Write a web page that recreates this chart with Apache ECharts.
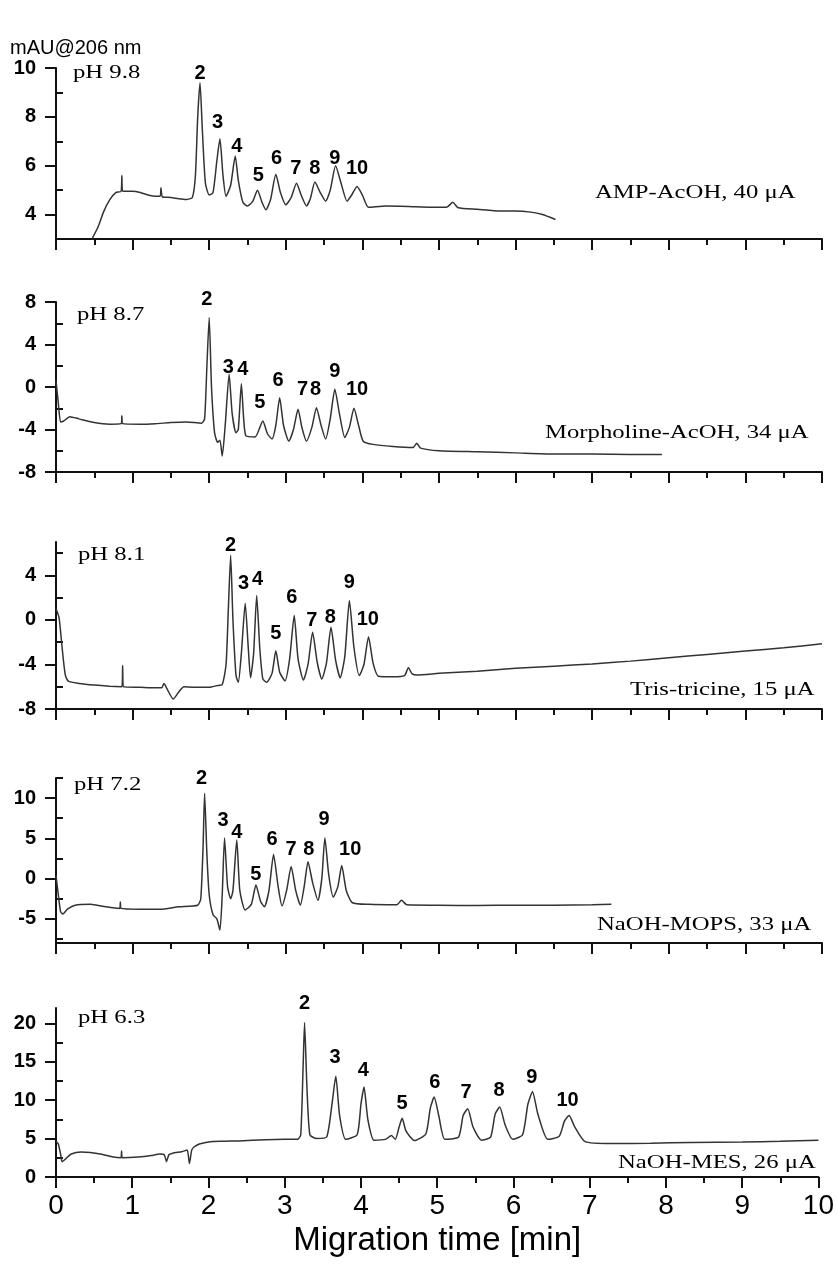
<!DOCTYPE html>
<html>
<head>
<meta charset="utf-8">
<script src="https://cdn.jsdelivr.net/npm/echarts@6/dist/echarts.min.js"></script>
<style>
html,body{margin:0;padding:0;background:#fff;}
#chart{width:837px;height:1268px;}
</style>
</head>
<body>
<div id="chart"></div>
<script>
// electropherograms, time [min] vs mAU@206 nm
var trace98 = [[0.47,3.0],[0.55,3.5],[0.62,4.1],[0.7,4.6],[0.78,4.9],[0.85,4.95],[0.86,5.6],[0.87,4.95],[1.0,4.95],[1.1,4.9],[1.2,4.8],[1.3,4.75],[1.36,4.75],[1.37,5.1],[1.39,4.72],[1.5,4.7],[1.6,4.65],[1.7,4.62],[1.78,4.7],[1.82,5.6],[1.85,8.0],[1.88,9.4],[1.91,7.5],[1.95,5.3],[2.0,4.8],[2.05,4.9],[2.1,6.2],[2.14,7.1],[2.18,5.6],[2.22,4.75],[2.28,5.2],[2.34,6.4],[2.38,5.4],[2.44,4.5],[2.5,4.35],[2.57,4.55],[2.63,5.0],[2.69,4.5],[2.74,4.2],[2.8,4.6],[2.87,5.65],[2.93,4.9],[3.0,4.4],[3.07,4.7],[3.14,5.28],[3.2,4.8],[3.27,4.35],[3.32,4.65],[3.38,5.33],[3.45,4.9],[3.52,4.55],[3.58,5.0],[3.65,6.0],[3.72,5.3],[3.8,4.55],[3.86,4.8],[3.93,5.15],[4.0,4.8],[4.08,4.3],[4.3,4.35],[4.6,4.33],[4.9,4.3],[5.1,4.3],[5.18,4.5],[5.25,4.28],[5.5,4.22],[5.8,4.15],[6.0,4.15],[6.2,4.1],[6.35,4.0],[6.52,3.8]];
var trace87 = [[0,0.6],[0.03,-1.5],[0.06,-3.3],[0.1,-3.2],[0.18,-2.8],[0.3,-3.0],[0.5,-3.35],[0.7,-3.5],[0.85,-3.45],[0.86,-2.7],[0.87,-3.45],[1.1,-3.5],[1.3,-3.45],[1.5,-3.35],[1.7,-3.3],[1.9,-3.4],[1.94,-3.0],[1.97,2.0],[2.0,6.55],[2.03,0.0],[2.07,-4.3],[2.11,-5.2],[2.14,-5.0],[2.17,-6.5],[2.21,-3.5],[2.26,1.2],[2.3,-2.5],[2.35,-4.3],[2.38,-4.0],[2.42,0.3],[2.45,-3.0],[2.48,-4.6],[2.6,-4.7],[2.7,-3.2],[2.76,-4.4],[2.82,-4.9],[2.87,-3.6],[2.92,-1.0],[2.97,-3.6],[3.04,-5.1],[3.1,-4.0],[3.16,-2.1],[3.21,-3.8],[3.27,-5.1],[3.34,-3.8],[3.40,-1.95],[3.46,-3.6],[3.52,-4.9],[3.58,-3.0],[3.64,-0.2],[3.7,-2.5],[3.77,-4.75],[3.83,-3.8],[3.89,-2.0],[3.95,-3.6],[4.01,-5.1],[4.14,-5.4],[4.4,-5.6],[4.66,-5.7],[4.71,-5.3],[4.76,-5.75],[5.0,-6.0],[5.5,-6.1],[6.0,-6.2],[6.5,-6.3],[7.0,-6.3],[7.5,-6.35],[7.91,-6.35]];
var trace81 = [[0,1.0],[0.04,0.2],[0.08,-2.5],[0.12,-4.9],[0.16,-5.5],[0.3,-5.7],[0.5,-5.85],[0.7,-5.95],[0.86,-6.0],[0.87,-4.1],[0.88,-6.0],[1.1,-6.05],[1.3,-6.1],[1.38,-6.1],[1.41,-5.7],[1.45,-6.2],[1.53,-7.1],[1.6,-6.5],[1.67,-6.0],[1.8,-6.05],[2.0,-6.05],[2.1,-5.9],[2.17,-5.8],[2.22,-4.0],[2.25,1.0],[2.28,5.8],[2.31,0.0],[2.35,-5.0],[2.38,-5.6],[2.42,-3.0],[2.47,1.5],[2.51,-2.5],[2.54,-5.2],[2.58,-3.0],[2.62,2.2],[2.66,-2.5],[2.7,-5.3],[2.75,-5.6],[2.82,-4.8],[2.87,-2.77],[2.92,-4.7],[2.99,-5.47],[3.05,-3.5],[3.11,0.39],[3.16,-3.5],[3.23,-5.4],[3.29,-4.0],[3.35,-1.1],[3.41,-3.8],[3.47,-5.3],[3.53,-3.9],[3.59,-0.66],[3.65,-3.6],[3.71,-5.2],[3.77,-3.3],[3.83,1.74],[3.89,-2.5],[3.96,-5.0],[4.02,-4.0],[4.08,-1.5],[4.14,-3.9],[4.21,-5.05],[4.4,-5.1],[4.55,-5.0],[4.6,-4.3],[4.65,-4.85],[4.71,-4.95],[5.0,-4.8],[5.5,-4.6],[6.0,-4.35],[6.5,-4.15],[7.0,-3.95],[7.5,-3.7],[8.0,-3.4],[8.5,-3.1],[9.0,-2.8],[9.5,-2.5],[10.0,-2.15]];
var trace72 = [[0,0.4],[0.03,-2.0],[0.06,-4.1],[0.09,-4.4],[0.15,-3.8],[0.25,-3.3],[0.45,-3.2],[0.65,-3.5],[0.83,-3.7],[0.84,-2.9],[0.85,-3.7],[1.1,-3.8],[1.36,-3.8],[1.6,-3.5],[1.85,-3.3],[1.89,-2.5],[1.92,4.0],[1.94,10.6],[1.97,3.0],[2.0,-2.0],[2.05,-4.5],[2.1,-5.0],[2.14,-6.4],[2.17,-2.0],[2.2,5.06],[2.24,-1.0],[2.28,-2.5],[2.31,-1.5],[2.36,4.8],[2.4,-1.5],[2.47,-3.9],[2.55,-3.2],[2.61,-0.8],[2.67,-2.8],[2.72,-3.5],[2.78,-1.5],[2.84,3.0],[2.9,-1.0],[2.95,-3.4],[3.01,-1.5],[3.07,1.5],[3.13,-1.5],[3.19,-3.3],[3.24,-1.0],[3.29,2.1],[3.35,-0.5],[3.42,-2.7],[3.47,0.0],[3.51,5.06],[3.56,0.5],[3.62,-2.3],[3.68,-1.0],[3.73,1.64],[3.79,-1.5],[3.87,-3.0],[4.08,-3.2],[4.45,-3.25],[4.51,-2.7],[4.58,-3.25],[5.0,-3.3],[5.5,-3.35],[6.0,-3.3],[6.5,-3.3],[7.0,-3.25],[7.25,-3.2]];
var trace63 = [[0,4.6],[0.03,4.3],[0.06,3.0],[0.08,2.0],[0.13,2.4],[0.2,3.0],[0.33,3.26],[0.45,3.2],[0.6,2.95],[0.75,2.6],[0.85,2.5],[0.86,3.4],[0.87,2.5],[1.08,2.6],[1.25,2.8],[1.36,3.0],[1.42,2.9],[1.45,2.0],[1.48,2.9],[1.53,3.1],[1.65,3.3],[1.72,3.5],[1.75,1.75],[1.78,3.5],[1.81,3.9],[1.88,4.3],[2.02,4.6],[2.2,4.65],[2.4,4.7],[2.75,4.86],[3.0,4.9],[3.17,4.9],[3.21,5.5],[3.24,14.0],[3.26,20.1],[3.29,12.0],[3.33,5.5],[3.42,5.0],[3.55,5.2],[3.62,9.5],[3.67,13.1],[3.72,8.0],[3.8,4.9],[3.95,5.5],[4.0,9.5],[4.04,11.7],[4.09,7.5],[4.17,4.8],[4.32,4.9],[4.4,5.4],[4.45,4.9],[4.5,6.5],[4.54,7.65],[4.59,6.0],[4.7,4.75],[4.85,5.6],[4.91,9.0],[4.96,10.4],[5.02,8.0],[5.1,4.9],[5.28,5.2],[5.34,8.0],[5.4,8.9],[5.47,6.5],[5.58,4.8],[5.7,5.2],[5.76,8.2],[5.82,9.1],[5.89,6.8],[5.99,4.9],[6.12,5.5],[6.19,9.5],[6.25,11.1],[6.32,8.2],[6.45,4.9],[6.6,5.3],[6.67,7.3],[6.73,8.0],[6.8,6.6],[6.94,4.6],[7.28,4.35],[7.8,4.4],[8.33,4.5],[9.0,4.55],[9.5,4.65],[10.0,4.8]];

// peak numbers and where they are written (time, signal)
var peakNames = ['2','3','4','5','6','7','8','9','10'];
var labelT98 = [1.88,2.11,2.36,2.64,2.88,3.13,3.38,3.64,3.93];
var labelV98 = [9.79,7.79,6.77,5.62,6.31,5.9,5.9,6.31,5.9];
var labelT87 = [1.97,2.25,2.44,2.66,2.90,3.22,3.39,3.64,3.93];
var labelV87 = [8.27,1.86,1.67,-1.44,0.63,-0.22,-0.22,1.48,-0.22];
var labelT81 = [2.28,2.45,2.63,2.87,3.08,3.34,3.58,3.83,4.07];
var labelV81 = [6.69,3.27,3.63,-1.23,2.01,-0.06,0.21,3.36,0.03];
var labelT72 = [1.90,2.18,2.36,2.61,2.82,3.07,3.30,3.50,3.84];
var labelV72 = [12.4,7.2,5.75,0.53,4.85,3.6,3.6,7.3,3.6];
var labelT63 = [3.26,3.66,4.03,4.54,4.97,5.38,5.81,6.24,6.71];
var labelV63 = [22.6,15.5,13.9,9.6,12.3,11.0,11.3,13.0,10.0];

var phNames = ['pH 9.8','pH 8.7','pH 8.1','pH 7.2','pH 6.3'];
var bufferNames = ['AMP-AcOH, 40 \u03bcA','Morpholine-AcOH, 34 \u03bcA','Tris-tricine, 15 \u03bcA','NaOH-MOPS, 33 \u03bcA','NaOH-MES, 26 \u03bcA'];

var yMin = [3,-8,-8,-8,0];
var yMax = [10,8,7,12.5,22];
var yMajor = [[4,6,8,10],[-8,-4,0,4,8],[-8,-4,0,4],[-5,0,5,10],[0,5,10,15,20]];
var yMinor = [[5,7,9],[-6,-2,2,6],[-6,-2,2,6],[-7.5,-2.5,2.5,7.5,12.5],[2.5,7.5,12.5,17.5]];
var xTicks = [0,1,2,3,4,5,6,7,8,9,10];

var traces = [trace98,trace87,trace81,trace72,trace63];
var labelT = [labelT98,labelT87,labelT81,labelT72,labelT63];
var labelV = [labelV98,labelV87,labelV81,labelV72,labelV63];

// layout of the five stacked panels (pixels)
var tops = [68,302,542,778,1008];
var heights = [171,170,167,165,169];
var phPos = [[73,73],[77,315],[78,555],[74,785],[78,1018]];
var bufPos = [[595,193],[545,433],[630,690],[597,925],[618,1163]];

var SANS = '"Liberation Sans", Arial, sans-serif';
var SERIF = '"Liberation Serif", "Times New Roman", serif';
var ink = '#111';

var grids = [], xAxes = [], yAxes = [], series = [], graphics = [];

tops.forEach(function(top, i){
    var last = i == tops.length - 1;
    grids.push({left:56, right:15, top:top, height:heights[i], containLabel:false});
    xAxes.push({
        type:'value', gridIndex:i, min:0, max:10, interval:1,
        axisLine:{show:true, onZero:false, lineStyle:{color:ink, width:2}},
        axisTick:{show:true, inside:false, length:11, lineStyle:{color:ink, width:2}},
        minorTick:{show:true, splitNumber:2, length:6, lineStyle:{color:ink, width:2}},
        splitLine:{show:false},
        axisLabel:{show:last, margin:15, fontFamily:SANS, fontSize:28, color:'#000',
            customValues:xTicks},
        name: last ? 'Migration time [min]' : '',
        nameLocation:'middle', nameGap:47,
        nameTextStyle:{fontFamily:SANS, fontSize:33, color:'#000'}
    });
    // major ticks + labels
    yAxes.push({
        type:'value', gridIndex:i, min:yMin[i], max:yMax[i],
        axisLine:{show:true, onZero:false, lineStyle:{color:ink, width:2}},
        axisTick:{show:true, inside:false, length:11, customValues:yMajor[i], lineStyle:{color:ink, width:2}},
        axisLabel:{show:true, margin:20, customValues:yMajor[i], fontFamily:SANS, fontSize:20, fontWeight:'bold', color:'#000'},
        splitLine:{show:false}
    });
    // minor ticks
    yAxes.push({
        type:'value', gridIndex:i, min:yMin[i], max:yMax[i],
        axisLine:{show:false},
        axisTick:{show:true, inside:false, length:7, customValues:yMinor[i], lineStyle:{color:ink, width:2}},
        axisLabel:{show:false},
        splitLine:{show:false}
    });
    series.push({
        type:'line', xAxisIndex:i, yAxisIndex:2*i, data:traces[i],
        showSymbol:false, symbol:'none', smooth:0.2, clip:true,
        lineStyle:{color:'#333', width:1.5}, silent:true, animation:false
    });
    series.push({
        type:'scatter', xAxisIndex:i, yAxisIndex:2*i, symbolSize:0, clip:false,
        itemStyle:{color:'#000', opacity:1},
        data:labelT[i].map(function(t, k){ return [t, labelV[i][k], peakNames[k]]; }),
        label:{show:true, position:'inside', opacity:1, formatter:function(p){ return p.value[2]; },
            fontFamily:SANS, fontSize:20, fontWeight:'bold', color:'#000', textBorderWidth:0},
        silent:true, animation:false
    });
    graphics.push({type:'text', x:phPos[i][0], y:phPos[i][1], scaleX:1.3,
        style:{text:phNames[i], font:'19px ' + SERIF, fill:'#000', textAlign:'left', verticalAlign:'middle', textVerticalAlign:'middle'}});
    graphics.push({type:'text', x:bufPos[i][0], y:bufPos[i][1], scaleX:1.3,
        style:{text:bufferNames[i], font:'19px ' + SERIF, fill:'#000', textAlign:'left', verticalAlign:'middle', textVerticalAlign:'middle'}});
});

graphics.push({type:'text', x:10, y:48,
    style:{text:'mAU@206 nm', font:'20px ' + SANS, fill:'#000', textAlign:'left', verticalAlign:'middle', textVerticalAlign:'middle'}});

var chart = echarts.init(document.getElementById('chart'), null, {renderer:'canvas'});
chart.setOption({
    animation:false,
    backgroundColor:'#fff',
    grid:grids,
    xAxis:xAxes,
    yAxis:yAxes,
    series:series,
    graphic:graphics
});
</script>
</body>
</html>
